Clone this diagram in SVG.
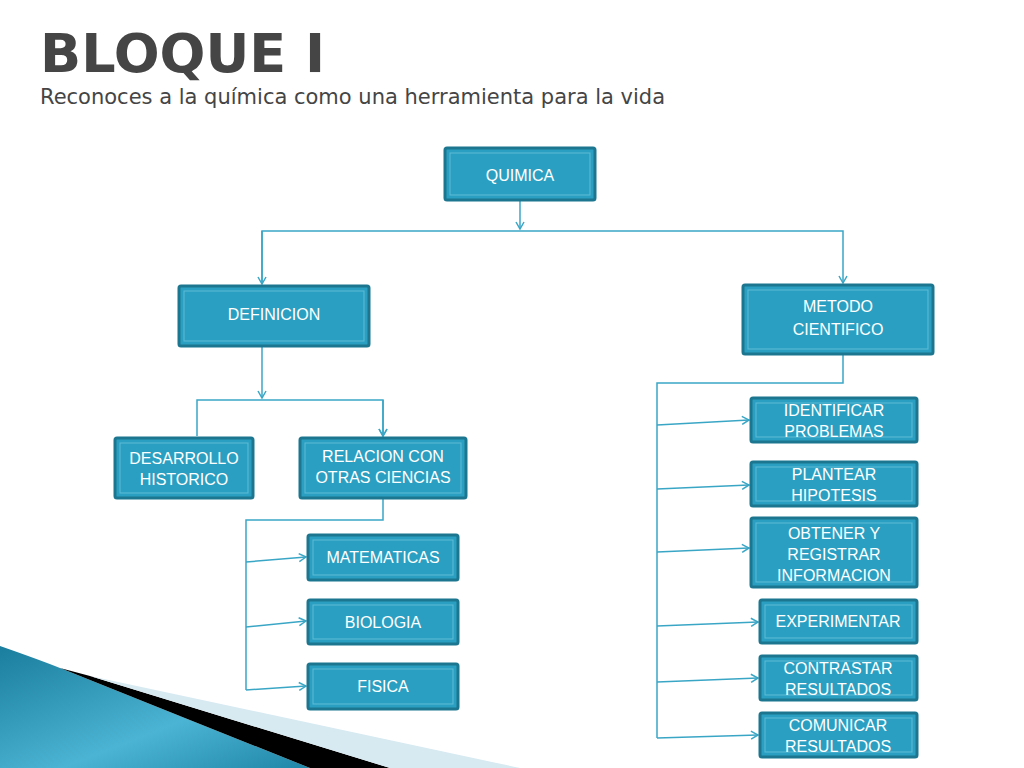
<svg xmlns="http://www.w3.org/2000/svg" width="1024" height="768" viewBox="0 0 1024 768">
<style>
.b{fill:#2b9fc1;stroke:#1c7690;stroke-width:3}
.i{fill:none;stroke:#5fbcd6;stroke-width:1}
.t{font-family:"Liberation Sans",Arial,sans-serif;fill:#fff;font-size:16px;text-anchor:middle}
.c{fill:none;stroke:#3aa6c6;stroke-width:1.5}
</style>
<defs>
<marker id="a" markerWidth="10" markerHeight="10" refX="8" refY="5" orient="auto" markerUnits="userSpaceOnUse"><path d="M1,1 L8,5 L1,9" fill="none" stroke="#3aa6c6" stroke-width="1.5"/></marker>
<linearGradient id="g" x1="0" y1="0" x2="1" y2="1"><stop offset="0" stop-color="#1a7e9e"/><stop offset="0.6" stop-color="#4bb3d3"/><stop offset="1" stop-color="#1f86a8"/></linearGradient>
</defs>
<rect width="1024" height="768" fill="#fff"/>
<path d="M0,646 Q40,660 60,668 L310,768 L0,768Z" fill="url(#g)"/>
<path d="M60,668 L90,676 L390,768 L310,768Z" fill="#000"/>
<path d="M90,676 L520,768 L390,768Z" fill="#d7e9f1"/>
<text x="40" y="72" font-family="DejaVu Sans,sans-serif" font-size="54" font-weight="bold" fill="#454545">BLOQUE I</text>
<text x="40" y="104" font-family="DejaVu Sans,sans-serif" font-size="21" fill="#454545">Reconoces a la química como una herramienta para la vida</text>
<g id="connectors">
<path class="c" d="M520,200 V229" marker-end="url(#a)"/>
<path class="c" d="M262,284 V231 H843 V283" marker-end="url(#a)"/>
<path class="c" d="M262,231 V284" marker-end="url(#a)"/>
<path class="c" d="M262,346 V398" marker-end="url(#a)"/>
<path class="c" d="M197,436 V400 H383 V436" marker-end="url(#a)"/>
<path class="c" d="M383,400 V436" marker-end="url(#a)"/>
<path class="c" d="M383,498 V520 H246 V690"/>
<path class="c" d="M246,562 L306,557" marker-end="url(#a)"/>
<path class="c" d="M246,627 L306,621" marker-end="url(#a)"/>
<path class="c" d="M246,690 L306,686" marker-end="url(#a)"/>
<path class="c" d="M843,354 V383 H657 V738"/>
<path class="c" d="M657,425 L749,420" marker-end="url(#a)"/>
<path class="c" d="M657,489 L749,485" marker-end="url(#a)"/>
<path class="c" d="M657,552 L749,548" marker-end="url(#a)"/>
<path class="c" d="M657,626 L758,622" marker-end="url(#a)"/>
<path class="c" d="M657,682 L758,678" marker-end="url(#a)"/>
<path class="c" d="M657,738 L758,735" marker-end="url(#a)"/>
</g>
<g id="quimica"><rect class="b" x="445" y="148" width="150" height="52" rx="2"/><rect class="i" x="450" y="153" width="140" height="42"/><text class="t" x="520" y="181" font-size="22" font-family="DejaVu Sans,sans-serif">QUIMICA</text></g>
<g id="definicion"><rect class="b" x="179" y="286" width="190" height="60" rx="2"/><rect class="i" x="184" y="291" width="180" height="50"/><text class="t" x="274" y="320" font-size="18" font-family="DejaVu Sans,sans-serif">DEFINICION</text></g>
<g id="metodo"><rect class="b" x="743" y="285" width="190" height="69" rx="2"/><rect class="i" x="748" y="290" width="180" height="59"/><text class="t" x="838" y="312" font-size="17" font-family="DejaVu Sans,sans-serif">METODO</text><text class="t" x="838" y="335" font-size="17" font-family="DejaVu Sans,sans-serif">CIENTIFICO</text></g>
<g id="desarrollo"><rect class="b" x="115" y="438" width="138" height="60" rx="2"/><rect class="i" x="120" y="443" width="128" height="50"/><text class="t" x="184" y="464">DESARROLLO</text><text class="t" x="184" y="485">HISTORICO</text></g>
<g id="relacion"><rect class="b" x="300" y="438" width="166" height="60" rx="2"/><rect class="i" x="305" y="443" width="156" height="50"/><text class="t" x="383" y="462" font-family="DejaVu Sans,sans-serif" font-size="15">RELACION CON</text><text class="t" x="383" y="483" font-family="DejaVu Sans,sans-serif" font-size="15">OTRAS CIENCIAS</text></g>
<g id="matematicas"><rect class="b" x="308" y="535" width="150" height="45" rx="2"/><rect class="i" x="313" y="540" width="140" height="35"/><text class="t" x="383" y="563">MATEMATICAS</text></g>
<g id="biologia"><rect class="b" x="308" y="600" width="150" height="44" rx="2"/><rect class="i" x="313" y="605" width="140" height="34"/><text class="t" x="383" y="628">BIOLOGIA</text></g>
<g id="fisica"><rect class="b" x="308" y="664" width="150" height="45" rx="2"/><rect class="i" x="313" y="669" width="140" height="35"/><text class="t" x="383" y="692">FISICA</text></g>
<g id="identificar"><rect class="b" x="751" y="398" width="166" height="44" rx="2"/><rect class="i" x="756" y="403" width="156" height="34"/><text class="t" x="834" y="416">IDENTIFICAR</text><text class="t" x="834" y="437">PROBLEMAS</text></g>
<g id="plantear"><rect class="b" x="751" y="462" width="166" height="44" rx="2"/><rect class="i" x="756" y="467" width="156" height="34"/><text class="t" x="834" y="480">PLANTEAR</text><text class="t" x="834" y="501">HIPOTESIS</text></g>
<g id="obtener"><rect class="b" x="751" y="518" width="166" height="69" rx="2"/><rect class="i" x="756" y="523" width="156" height="59"/><text class="t" x="834" y="539">OBTENER Y</text><text class="t" x="834" y="560">REGISTRAR</text><text class="t" x="834" y="581">INFORMACION</text></g>
<g id="experimentar"><rect class="b" x="760" y="600" width="157" height="43" rx="2"/><rect class="i" x="765" y="605" width="147" height="33"/><text class="t" x="838" y="627" font-size="15">EXPERIMENTAR</text></g>
<g id="contrastar"><rect class="b" x="760" y="656" width="157" height="44" rx="2"/><rect class="i" x="765" y="661" width="147" height="34"/><text class="t" x="838" y="674">CONTRASTAR</text><text class="t" x="838" y="695">RESULTADOS</text></g>
<g id="comunicar"><rect class="b" x="760" y="713" width="157" height="44" rx="2"/><rect class="i" x="765" y="718" width="147" height="34"/><text class="t" x="838" y="731">COMUNICAR</text><text class="t" x="838" y="752">RESULTADOS</text></g>
</svg>
